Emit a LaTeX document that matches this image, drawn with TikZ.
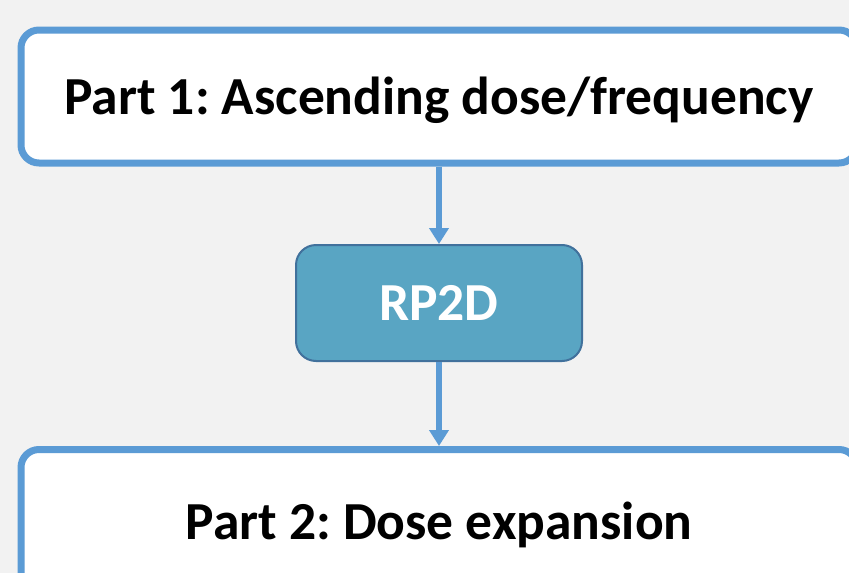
\documentclass[tikz,border=0pt]{standalone}
\usepackage{fontspec}
\setmainfont{Carlito}
\usetikzlibrary{arrows.meta}
\definecolor{bgcol}{HTML}{F2F2F2}
\definecolor{framecol}{HTML}{5B9BD5}
\definecolor{stepfill}{HTML}{59A5C3}
\definecolor{stepline}{HTML}{41719C}
\frenchspacing
\newcommand{\boxfont}{\fontsize{53.5}{60}\selectfont\bfseries}
\tikzset{
  phasebox/.style={draw=framecol, line width=7pt, fill=white, rounded corners=18pt,
    minimum width=836pt, font=\boxfont,
    text height=35pt, text depth=0pt, inner sep=0pt},
  decisionbox/.style={draw=stepline, line width=2pt, fill=stepfill, rounded corners=20pt,
    minimum width=286pt, minimum height=116pt, text=white,
    font=\boxfont, text height=35pt, text depth=0pt, inner sep=0pt},
  flow/.style={draw=framecol, line width=5.5pt, -{Triangle[width=19pt,length=16pt]}}
}
\begin{document}
\begin{tikzpicture}[x=1pt,y=1pt]
  \useasboundingbox (0,0) rectangle (849,-573);
  \clip (0,0) rectangle (849,-573);
  \fill[bgcol] (0,0) rectangle (849,-573);
  \node[phasebox, minimum height=133pt] (part1) at (439,-96.5) {Part 1: Ascending dose/frequency};
  \node[decisionbox] (rp2d) at (439,-303) {RP2D};
  \node[phasebox, minimum height=145pt] (part2) at (439,-522) {Part 2: Dose expansion};
  \draw[flow] (rp2d.north |- part1.south) -- (rp2d.north);
  \draw[flow] (rp2d.south) -- (rp2d.south |- part2.north);
\end{tikzpicture}
\end{document}
